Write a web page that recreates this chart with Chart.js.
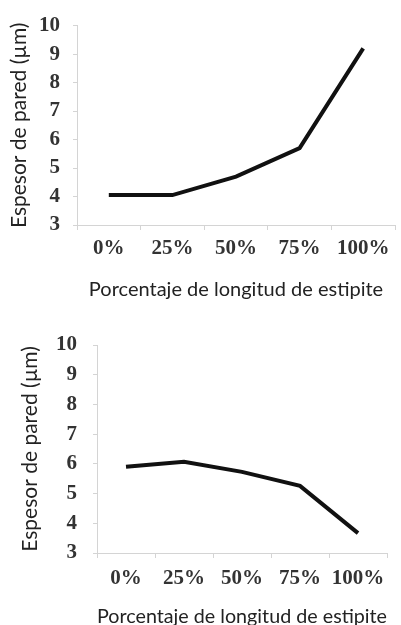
<!DOCTYPE html>
<html>
<head>
<meta charset="utf-8">
<script src="https://cdn.jsdelivr.net/npm/chart.js@4/dist/chart.umd.min.js"></script>
<style>
  html, body { margin: 0; padding: 0; background: #fff; }
  body { width: 401px; height: 625px; position: relative; overflow: hidden; }
  .box { position: absolute; left: 0; width: 401px; }
  #boxA { top: 0; height: 305px; }
  #boxB { top: 310px; height: 318px; }
</style>
</head>
<body>
<div class="box" id="boxA"><canvas id="chartA"></canvas></div>
<div class="box" id="boxB"><canvas id="chartB"></canvas></div>
<script>
// Position along the stipe (x categories)
const positions = ['0%', '25%', '50%', '75%', '100%'];
// Wall thickness (µm) along the stipe, first specimen group
const wallThicknessA = [4.05, 4.05, 4.7, 5.7, 9.2];
// Wall thickness (µm) along the stipe, second specimen group
const wallThicknessB = [5.9, 6.07, 5.73, 5.26, 3.67];
// Y axis range and step
const yMin = 3, yMax = 10, yStep = 1;
const yTitle = 'Espesor de pared (µm)';
const xTitle = 'Porcentaje de longitud de estipite';

const axisGray = '#d4d4d4';
const tickFont = { family: '"Liberation Serif", "Times New Roman", serif', size: 21, weight: 'bold' };
const xTitleFont = { family: 'Lato, "Open Sans", sans-serif', size: 20, lineHeight: 1.0 };
const yTitleFont = { family: 'Lato, "Open Sans", sans-serif', size: 21, lineHeight: 1.2 };

function makeChart(id, values, geom) {
  return new Chart(document.getElementById(id), {
    type: 'line',
    data: {
      labels: positions,
      datasets: [{
        data: values,
        borderColor: '#111',
        borderWidth: 4,
        tension: 0,
        pointRadius: 0,
        fill: false
      }]
    },
    options: {
      responsive: true,
      maintainAspectRatio: false,
      animation: false,
      events: [],
      layout: { padding: { top: geom.top, right: geom.right, left: 0, bottom: 0 } },
      plugins: { legend: { display: false }, tooltip: { enabled: false } },
      scales: {
        x: {
          type: 'category',
          offset: true,
          grid: { display: true, offset: true, drawOnChartArea: false, drawTicks: true, tickLength: 5, color: axisGray },
          border: { display: true, color: axisGray, width: 1 },
          ticks: { font: tickFont, color: '#333', padding: geom.xTickPad, maxRotation: 0, autoSkip: false },
          title: { display: true, text: xTitle, font: xTitleFont, color: '#222', padding: { top: 0, bottom: geom.xTitlePad } },
          afterFit: s => { s.height = geom.xHeight; }
        },
        y: {
          min: yMin,
          max: yMax,
          grid: { display: true, drawOnChartArea: false, drawTicks: true, tickLength: 4, color: axisGray },
          border: { display: true, color: axisGray, width: 1 },
          ticks: { stepSize: yStep, font: tickFont, color: '#333', padding: geom.yTickPad },
          title: { display: true, text: yTitle, font: yTitleFont, color: '#222', padding: { top: geom.yTitlePad, bottom: 0 } },
          afterFit: s => { s.width = geom.yWidth; }
        }
      }
    }
  });
}

makeChart('chartA', wallThicknessA, {
  top: 19, right: 6, xHeight: 80, yWidth: 77,
  xTickPad: 6, xTitlePad: 5, yTickPad: 13, yTitlePad: 7
});
makeChart('chartB', wallThicknessB, {
  top: 35, right: 14, xHeight: 75, yWidth: 97,
  xTickPad: 8, xTitlePad: 1, yTickPad: 16, yTitlePad: 18
});
</script>
</body>
</html>
